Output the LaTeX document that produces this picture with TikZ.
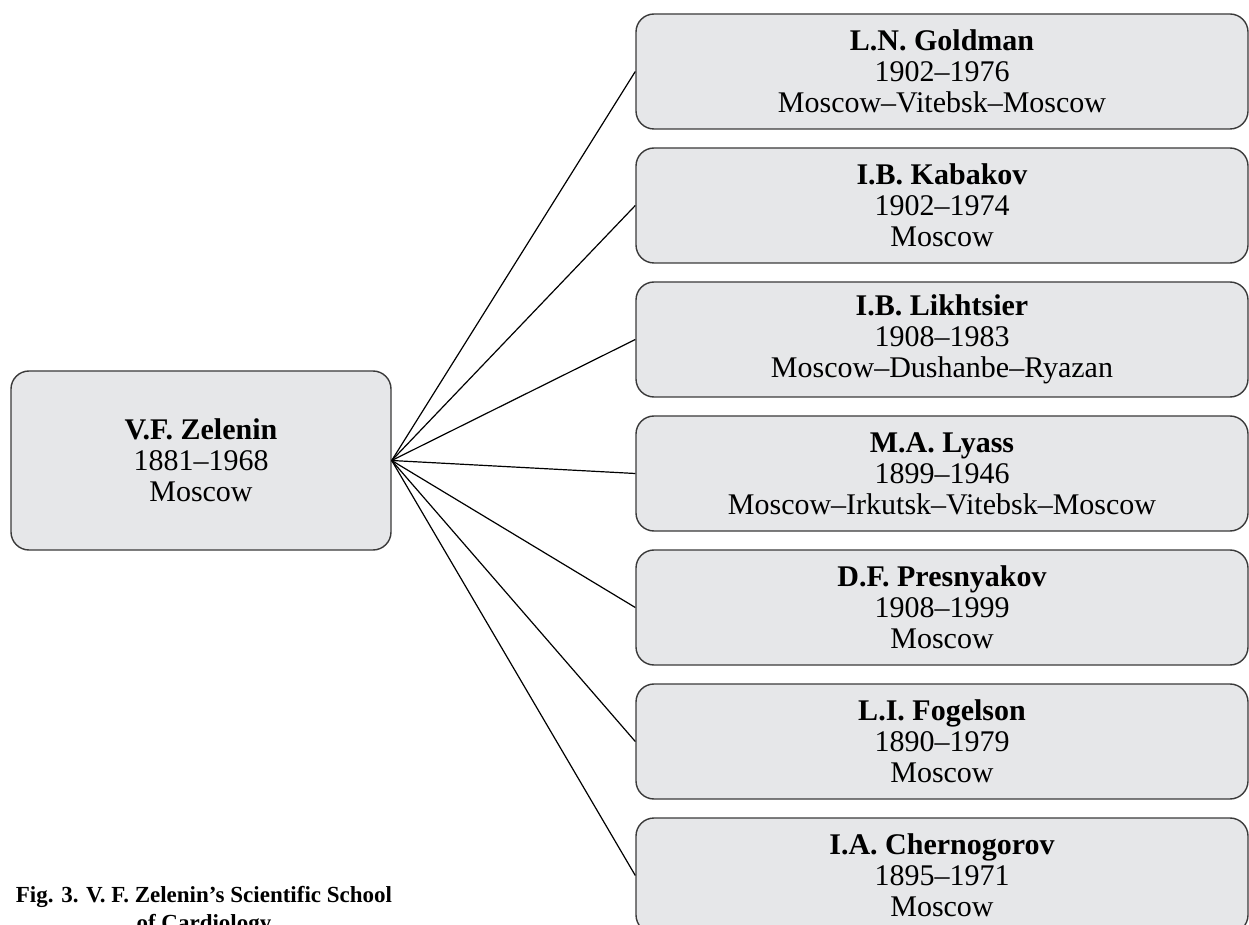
\documentclass[tikz,border=0pt]{standalone}
\usepackage{fontspec}
\setmainfont{Liberation Serif}
\usepackage{xcolor}
\usetikzlibrary{positioning}

\definecolor{boxgray}{HTML}{E6E7E9}
\definecolor{edgegray}{HTML}{3A3A3A}

\tikzset{
    person/.style={draw=edgegray, line width=0.7pt, fill=boxgray, rounded corners=9pt,
        align=center, inner sep=0pt, font=\fontsize{15}{15.5}\selectfont},
    pupil/.style={person, minimum width=306pt, minimum height=57.5pt},
    link/.style={draw=black, line width=0.6pt}
}

\begin{document}
\begin{tikzpicture}[x=0.5pt,y=-0.5pt]
    \clip (0,0) rectangle (1249,925);

    % Teacher
    \node[person, minimum width=190pt, minimum height=89.5pt] (zelenin) at (201,460.5)
        {\textbf{V.F. Zelenin}\\1881--1968\\Moscow};

    % Pupils
    \node[pupil] (goldman) at (942,71.5)
        {\textbf{L.N. Goldman}\\1902--1976\\Moscow--Vitebsk--Moscow};
    \node[pupil] (kabakov) at (942,205.5)
        {\textbf{I.B. Kabakov}\\1902--1974\\Moscow};
    \node[pupil] (likhtsier) at (942,339.5)
        {\textbf{I.B. Likhtsier}\\1908--1983\\Moscow--Dushanbe--Ryazan};
    \node[pupil] (lyass) at (942,473.5)
        {\textbf{M.A. Lyass}\\1899--1946\\Moscow--Irkutsk--Vitebsk--Moscow};
    \node[pupil] (presnyakov) at (942,607.5)
        {\textbf{D.F. Presnyakov}\\1908--1999\\Moscow};
    \node[pupil] (fogelson) at (942,741.5)
        {\textbf{L.I. Fogelson}\\1890--1979\\Moscow};
    \node[pupil] (chernogorov) at (942,875.5)
        {\textbf{I.A. Chernogorov}\\1895--1971\\Moscow};

    % Links
    \foreach \p in {goldman,kabakov,likhtsier,lyass,presnyakov,fogelson,chernogorov}
        \draw[link] (zelenin.east) -- (\p.west);

    % Caption
    \node[align=center, anchor=base, font=\bfseries\fontsize{11.5}{14}\selectfont] (caption) at (204,930)
        {Fig. 3. V. F. Zelenin’s Scientific School\\of Cardiology};
\end{tikzpicture}
\end{document}
